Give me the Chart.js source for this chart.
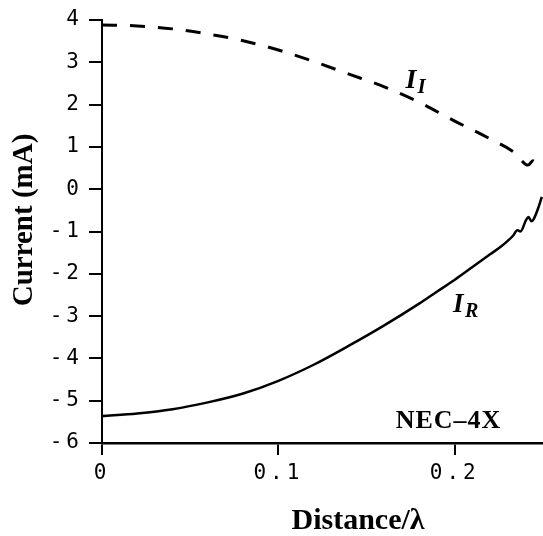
<!DOCTYPE html>
<html>
<head>
<meta charset="utf-8">
<script src="https://cdn.jsdelivr.net/npm/chart.js@4.4.1/dist/chart.umd.min.js"></script>
<style>
  html, body { margin: 0; padding: 0; background: #fff; }
  #wrap { width: 543px; height: 536px; }
</style>
</head>
<body>
<div id="wrap"><canvas id="courant"></canvas></div>
<script>
// -------------------------------
// Données : courant le long du fil (NEC-4X)
// -------------------------------
// Partie imaginaire I_I (tirets)
const distII = [0, 0.02, 0.04, 0.06, 0.08, 0.10, 0.12, 0.14, 0.16, 0.18, 0.20, 0.22, 0.234, 0.2415, 0.2443, 0.2472];
const courantII = [3.88, 3.86, 3.79, 3.67, 3.51, 3.29, 3.02, 2.72, 2.42, 2.05, 1.61, 1.19, 0.86, 0.57, 0.67, 0.53];

// Partie réelle I_R (trait plein)
const distIR = [0, 0.02, 0.04, 0.06, 0.08, 0.10, 0.12, 0.14, 0.16, 0.18, 0.19, 0.20, 0.21, 0.22, 0.226, 0.230,
  0.233, 0.2355, 0.2372, 0.2405, 0.2418, 0.2435, 0.2448, 0.2475, 0.2493];
const courantIR = [-5.36, -5.30, -5.20, -5.04, -4.83, -4.53, -4.15, -3.70, -3.22, -2.70, -2.42, -2.14, -1.84, -1.54, -1.36, -1.22,
  -1.10, -0.97, -1.00, -0.72, -0.66, -0.76, -0.70, -0.42, -0.18];

// Graduations
const xTicks = [0, 0.1, 0.2];
const xTickLabels = ['0', '0.1', '0.2'];
const yTicks = [-6, -5, -4, -3, -2, -1, 0, 1, 2, 3, 4];

const serif = '"Liberation Serif", "Times New Roman", serif';

// Textes posés sur le graphique : titres d'axes, noms des courbes
const etiquettes = {
  id: 'etiquettes',
  beforeDraw(chart) {
    // espacement large des chiffres, façon traceur
    chart.ctx.letterSpacing = '4px';
  },
  beforeDatasetsDraw(chart) {
    chart.ctx.letterSpacing = '0px';
  },
  afterDraw(chart) {
    const ctx = chart.ctx;
    const sx = chart.scales.x;
    const sy = chart.scales.y;
    ctx.save();
    ctx.letterSpacing = '0px';
    ctx.fillStyle = '#000';
    ctx.textAlign = 'left';
    ctx.textBaseline = 'alphabetic';

    // I_I
    let px = sx.getPixelForValue(0.172);
    let py = sy.getPixelForValue(2.39);
    ctx.font = 'italic bold 28px ' + serif;
    ctx.fillText('I', px, py);
    ctx.font = 'italic bold 21px ' + serif;
    ctx.fillText('I', px + 12, py + 5);

    // I_R
    px = sx.getPixelForValue(0.199);
    py = sy.getPixelForValue(-2.90);
    ctx.font = 'italic bold 27px ' + serif;
    ctx.fillText('I', px, py);
    ctx.font = 'italic bold 20px ' + serif;
    ctx.fillText('R', px + 12, py + 5);

    // NEC-4X
    ctx.font = 'bold 26px ' + serif;
    ctx.letterSpacing = '1px';
    ctx.fillText('NEC\u20134X', sx.getPixelForValue(0.1665), sy.getPixelForValue(-5.65));
    ctx.letterSpacing = '0px';

    // titre axe x
    ctx.font = 'bold 30px ' + serif;
    ctx.textAlign = 'center';
    ctx.fillText('Distance/\u03bb', 358, 529);

    // titre axe y
    ctx.translate(25, 220);
    ctx.rotate(-Math.PI / 2);
    ctx.textBaseline = 'middle';
    ctx.font = 'bold 29px ' + serif;
    ctx.fillText('Current (mA)', 0, 0);
    ctx.restore();
  }
};

const ctxCourant = document.getElementById('courant').getContext('2d');
new Chart(ctxCourant, {
  type: 'line',
  data: {
    datasets: [
      {
        label: 'I_I',
        data: distII.map((d, i) => ({ x: d, y: courantII[i] })),
        borderColor: '#000',
        borderWidth: 3,
        borderDash: [15, 13],
        pointRadius: 0,
        fill: false,
        cubicInterpolationMode: 'monotone'
      },
      {
        label: 'I_R',
        data: distIR.map((d, i) => ({ x: d, y: courantIR[i] })),
        borderColor: '#000',
        borderWidth: 2.5,
        pointRadius: 0,
        fill: false,
        cubicInterpolationMode: 'monotone'
      }
    ]
  },
  options: {
    responsive: true,
    maintainAspectRatio: false,
    animation: false,
    layout: { padding: { top: 20, right: 0, left: 0, bottom: 0 } },
    scales: {
      x: {
        type: 'linear',
        min: 0,
        max: 0.25,
        afterBuildTicks: scale => { scale.ticks = xTicks.map(v => ({ value: v })); },
        afterFit: scale => { scale.height = 93; },
        grid: { drawOnChartArea: false, drawTicks: true, tickLength: 12, color: '#000', lineWidth: 2 },
        border: { display: true, color: '#000', width: 2.5 },
        ticks: {
          padding: 6,
          color: '#000',
          font: { family: '"DejaVu Sans Mono", monospace', size: 21 },
          callback: value => xTickLabels[xTicks.indexOf(value)]
        }
      },
      y: {
        min: -6,
        max: 4,
        afterBuildTicks: scale => { scale.ticks = yTicks.map(v => ({ value: v })); },
        afterFit: scale => { scale.width = 102; },
        grid: { drawOnChartArea: false, drawTicks: true, tickLength: 13, color: '#000', lineWidth: 2 },
        border: { display: true, color: '#000', width: 2 },
        ticks: {
          padding: 6,
          color: '#000',
          font: { family: '"DejaVu Sans Mono", monospace', size: 21 },
          callback: value => String(value)
        }
      }
    },
    plugins: {
      legend: { display: false },
      tooltip: { enabled: false },
      title: { display: false }
    }
  },
  plugins: [etiquettes]
});
</script>
</body>
</html>
